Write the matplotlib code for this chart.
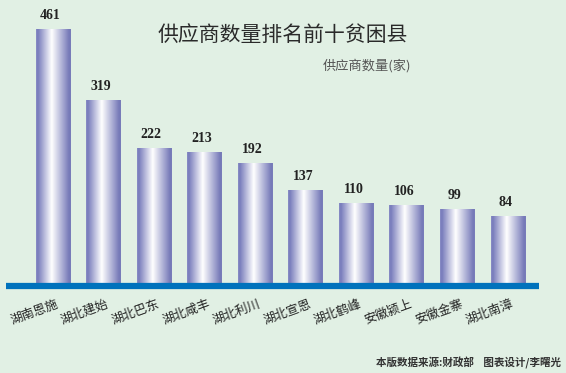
import numpy as np
import matplotlib
matplotlib.use('Agg')
import matplotlib.pyplot as plt
from matplotlib.colors import LinearSegmentedColormap

plt.rcParams['font.family'] = ['Noto Sans CJK SC', 'DejaVu Sans']

# data
counties = ['湖南恩施', '湖北建始', '湖北巴东', '湖北咸丰', '湖北利川',
            '湖北宣恩', '湖北鹤峰', '安徽颍上', '安徽金寨', '湖北南漳']
suppliers = [461, 319, 222, 213, 192, 137, 110, 106, 99, 84]
title = '供应商数量排名前十贫困县'
unit_label = '供应商数量(家)'
footer = '本版数据来源:财政部    图表设计/李曙光'

bg = '#e1f0e4'
base = -50  # bars are drawn down to the blue baseline

fig = plt.figure(figsize=(5.66, 3.73), dpi=100, facecolor=bg)
ax = fig.add_axes([0, 0, 1, 1])
ax.set_facecolor(bg)
ax.axis('off')

cmap = LinearSegmentedColormap.from_list(
    'cyl', [(0, '#8a8ec6'), (0.05, '#777bbb'), (0.45, '#ffffff'),
            (0.95, '#7579b8'), (1, '#7a7eba')])
grad = np.linspace(0, 1, 256).reshape(1, -1)

x = np.arange(len(suppliers))
w = 0.69
bars = ax.bar(x, np.array(suppliers) - base, bottom=base, width=w,
              facecolor='none', edgecolor='none')
for b, v in zip(bars, suppliers):
    x0 = b.get_x()
    im = ax.imshow(grad, cmap=cmap, aspect='auto',
                   extent=(x0, x0 + w, base, v), zorder=2)
    im.set_clip_path(b)
    ax.annotate(str(v), (b.get_x() + w / 2, v), xytext=(-2, 5),
                textcoords='offset points', ha='center', va='bottom',
                fontsize=10, fontweight='bold', family='Liberation Serif',
                color='#222222')

# axis range chosen so the bars sit where they do in the original layout
ax.set_xlim(-1.048, 10.146)
ax.set_ylim(-232, 520)

# blue baseline
ax.axhline(base - 6, xmin=0.011, xmax=0.952, color='#0072bc', lw=4.5,
           solid_capstyle='butt', zorder=3)

for xi, name in zip(x, counties):
    ax.text(xi + 0.05, -80, name, rotation=20, rotation_mode='anchor',
            ha='right', va='top', fontsize=9, color='#222222',
            fontweight='medium')

fig.text(0.5, 0.905, title, ha='center', va='center', fontsize=15,
         color='#2a2a2a', fontweight='medium')
fig.text(0.727, 0.823, unit_label, ha='right', va='center', fontsize=9.5,
         color='#555555')
fig.text(0.991, 0.027, footer, ha='right', va='center', fontsize=7.6,
         color='#333333', fontweight='bold')

fig.savefig('out.png', dpi=100, facecolor=bg)
